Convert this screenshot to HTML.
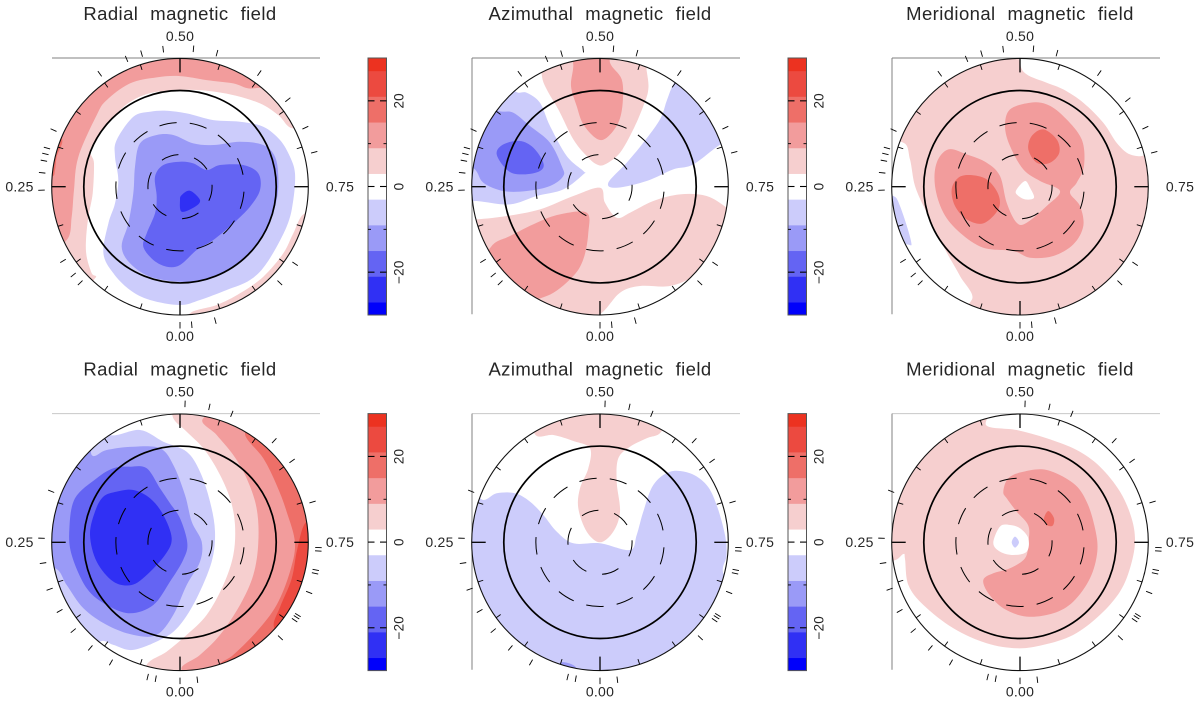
<!DOCTYPE html>
<html lang="en">
<head>
<meta charset="utf-8">
<title>Stellar magnetic field maps</title>
<style>
html,body{margin:0;padding:0;background:#fff;}
#chart{display:block;width:1200px;height:703px;font-family:"Liberation Sans",sans-serif;filter:blur(0.3px);}
</style>
</head>
<body>
<svg id="chart" xmlns="http://www.w3.org/2000/svg" width="1200" height="703" viewBox="0 0 1200 703"></svg>
<script>
// Colour scale (field strength in gauss)
const bandEdges = [-30, -27, -21, -15, -9, -3, 3, 9, 15, 21, 27, 30];
const bandColors = ['#0000fb', '#3030f4', '#6464f3', '#9a9af7', '#ccccfb', '#ffffff', '#f6cfcf', '#f29c9c', '#ee6f68', '#ec4a40', '#ec3220'];
const barTicks = [20, 10, 0, -10, -20];
const barLabels = ['20', '0', '\u221220'];
const barLabelValues = [20, 0, -20];

// Panel text and phase axis labels
const panelTitles = ['Radial magnetic field', 'Azimuthal magnetic field', 'Meridional magnetic field'];
const phaseLabels = ['0.50', '0.25', '0.75', '0.00'];
const majorPhases = [0, 0.25, 0.5, 0.75];
const minorPhases = [0.05, 0.1, 0.15, 0.2, 0.3, 0.35, 0.4, 0.45, 0.55, 0.6, 0.65, 0.7, 0.8, 0.85, 0.9, 0.95];
const latitudeCircles = [30, 60];
const equatorCircle = [90];
const rimColatitude = 120;

// Observation phases (outer ticks)
const obsPhasesTop = [0.5155, 0.4806, 0.4553, 0.437, 0.4017, 0.317, 0.295, 0.288, 0.28, 0.266, 0.246, 0.16, 0.14, 0.128, 0, 0.9865, 0.959, 0.872, 0.844, 0.71, 0.68, 0.642, 0.597, 0.543];
const obsPhasesBottom = [0.5058, 0.534, 0.561, 0.619, 0.65, 0.703, 0.756, 0.76, 0.782, 0.786, 0.809, 0.838, 0.841, 0.845, 0.871, 0.98, 0, 0.028, 0.0375, 0.083, 0.112, 0.14, 0.1675, 0.195, 0.226, 0.2547, 0.31];

// Contour regions in polar-plane units from the pole (x right, y up); the 120 degree rim sits at 385 units
const planeRim = 385;
const fullDisk = [[-520,-520],[520,-520],[520,520],[-520,520]];

const radialTopPinkUpper = [[-255,-275],[-330,-330],[-460,0],[-330,330],[0,460],[330,330],[420,210],[340,175],[295,215],[240,250],[160,275],[80,288],[0,290],[-100,278],[-180,230],[-265,120],[-258,70],[-262,-20],[-275,-90],[-282,-160],[-280,-210],[-265,-260]];
const radialTopPinkLower = [[30,-380],[110,-355],[180,-320],[250,-270],[310,-200],[340,-140],[375,-80],[450,-90],[420,-280],[200,-450],[30,-430]];
const radialTopSalmon = [[-340,-160],[-325,-90],[-318,-10],[-305,90],[-250,215],[-220,260],[-150,310],[-70,328],[0,332],[80,320],[160,310],[220,295],[320,330],[0,460],[-330,330],[-460,0],[-420,-200]];
const radialTopCoral = [[-385,30],[-375,50],[-370,90],[-355,145],[-420,170],[-440,30]];
const radialTopBlueA = [[-90,225],[-140,210],[-190,140],[-195,90],[-185,20],[-195,-50],[-215,-110],[-230,-200],[-200,-260],[-150,-310],[-90,-340],[0,-355],[60,-340],[140,-310],[210,-280],[260,-230],[320,-120],[340,-40],[345,40],[330,90],[300,140],[250,180],[180,195],[100,200],[20,220],[-40,228]];
const radialTopBlueB = [[-70,155],[-120,130],[-135,60],[-140,-20],[-155,-110],[-175,-180],[-150,-230],[-90,-270],[0,-285],[80,-280],[160,-240],[220,-185],[260,-130],[290,-40],[295,30],[285,90],[250,125],[180,135],[100,125],[40,130],[-20,155]];
const radialTopBlueC = [[0,75],[-50,65],[-75,30],[-70,-30],[-75,-80],[-100,-140],[-110,-180],[-80,-220],[-40,-240],[0,-235],[50,-190],[100,-160],[160,-110],[210,-60],[240,-10],[235,40],[190,65],[120,65],[80,50],[40,70]];
const radialTopBlueD = [[30,-12],[60,-40],[45,-60],[5,-75],[0,-40],[5,-25]];
const radialTopShapes = [radialTopPinkUpper, radialTopPinkLower, radialTopSalmon, radialTopCoral, radialTopBlueA, radialTopBlueB, radialTopBlueC, radialTopBlueD];
const radialTopBands = [6, 6, 12, 18, -6, -12, -18, -24];

const azimuthalTopPinkNorth = [[-175,337],[-160,292],[-125,232],[-80,142],[-40,92],[-10,67],[15,67],[60,102],[100,172],[130,242],[145,292],[140,347],[120,440],[-100,440],[-175,420]];
const azimuthalTopSalmonNorth = [[-80,362],[-87,302],[-70,242],[-50,187],[-10,144],[20,147],[55,192],[68,252],[65,322],[30,372],[30,430],[-80,430]];
const azimuthalTopBlueLeftA = [[-255,287],[-220,282],[-180,252],[-150,182],[-100,92],[-50,47],[-50,37],[-110,-8],[-190,-28],[-270,-53],[-370,-43],[-450,-40],[-450,150],[-300,350]];
const azimuthalTopBlueLeftB = [[-305,227],[-260,222],[-210,182],[-150,132],[-115,62],[-110,32],[-150,2],[-220,-13],[-290,-13],[-350,12],[-375,52],[-430,100],[-380,250]];
const azimuthalTopBlueLeftC = [[-240,137],[-200,117],[-170,72],[-180,47],[-230,37],[-275,47],[-310,97],[-290,127]];
const azimuthalTopBlueRight = [[220,307],[200,257],[180,202],[130,132],[80,72],[25,12],[50,-3],[140,17],[220,52],[280,67],[370,132],[440,150],[400,300],[260,370]];
const azimuthalTopPinkSouth = [[-370,-98],[-280,-88],[-180,-68],[-80,-28],[0,-3],[15,-48],[50,-93],[90,-78],[160,-43],[240,-23],[320,-28],[380,-63],[420,-100],[380,-200],[335,-208],[280,-268],[210,-298],[120,-298],[60,-318],[0,-383],[-100,-440],[-300,-350],[-440,-100]];
const azimuthalTopSalmonSouth = [[-325,-178],[-270,-148],[-190,-108],[-120,-83],[-40,-78],[-35,-138],[-50,-218],[-85,-273],[-160,-328],[-260,-340],[-360,-260]];
const azimuthalTopShapes = [azimuthalTopPinkNorth, azimuthalTopSalmonNorth, azimuthalTopBlueLeftA, azimuthalTopBlueLeftB, azimuthalTopBlueLeftC, azimuthalTopBlueRight, azimuthalTopPinkSouth, azimuthalTopSalmonSouth];
const azimuthalTopBands = [6, 12, -6, -12, -18, -6, 6, 12];

const meridionalTopNeutralRight = [[0,372],[20,337],[80,312],[130,292],[190,252],[250,192],[290,132],[330,97],[380,97],[440,150],[300,350],[0,450]];
const meridionalTopNeutralLeft = [[-350,132],[-330,82],[-315,2],[-280,-78],[-225,-188],[-180,-268],[-145,-340],[-250,-380],[-430,-150],[-430,120]];
const meridionalTopBlueSliver = [[-380,-28],[-360,-58],[-327,-163],[-340,-173],[-420,-150],[-420,-30]];
const meridionalTopSalmon = [[30,252],[-30,232],[-45,182],[-30,122],[10,52],[60,17],[120,-13],[80,-58],[20,-108],[-10,-108],[-40,-48],[-60,32],[-100,72],[-160,97],[-215,112],[-250,72],[-255,2],[-230,-78],[-180,-138],[-110,-183],[-20,-193],[30,-213],[100,-208],[160,-173],[190,-118],[180,-58],[150,-18],[170,12],[192,62],[185,142],[130,212],[80,247]];
const meridionalTopCoralUpper = [[70,172],[110,142],[118,102],[90,72],[50,72],[25,112],[35,152]];
const meridionalTopCoralLeft = [[-150,35],[-100,22],[-65,-23],[-65,-68],[-110,-110],[-160,-98],[-195,-58],[-205,-8],[-185,27]];
const meridionalTopNeutralCentre = [[15,17],[30,-3],[42,-33],[15,-38],[-10,-23],[-10,-8]];
const meridionalTopShapes = [fullDisk, meridionalTopNeutralRight, meridionalTopNeutralLeft, meridionalTopBlueSliver, meridionalTopSalmon, meridionalTopCoralUpper, meridionalTopCoralLeft, meridionalTopNeutralCentre];
const meridionalTopBands = [6, 0, 0, -6, 12, 18, 18, 0];

const radialBottomPink = [[-20,372],[20,332],[70,282],[115,212],[150,132],[165,52],[160,-38],[130,-128],[80,-218],[20,-278],[-40,-328],[-100,-368],[-100,-440],[300,-400],[450,0],[300,350],[0,440],[-20,420]];
const radialBottomSalmon = [[70,372],[110,322],[160,262],[200,192],[230,102],[235,0],[220,-98],[180,-188],[120,-278],[60,-338],[5,-383],[100,-440],[450,-100],[450,100],[200,420]];
const radialBottomCoral = [[195,327],[250,252],[290,172],[320,92],[345,-2],[330,-88],[290,-188],[230,-268],[160,-338],[120,-368],[140,-420],[450,-200],[450,100],[260,360]];
const radialBottomRed = [[378,60],[352,-20],[335,-110],[300,-195],[282,-255],[330,-300],[450,-100],[430,60]];
const radialBottomBlueA = [[-210,322],[-120,337],[-50,302],[20,272],[60,212],[90,122],[105,32],[95,-58],[50,-168],[0,-248],[-50,-288],[-140,-323],[-200,-308],[-240,-298],[-300,-350],[-470,-100],[-440,150],[-260,380]];
const radialBottomBlueB = [[-265,262],[-220,277],[-140,287],[-60,282],[-20,232],[15,142],[35,62],[65,2],[60,-58],[20,-128],[-20,-218],[-70,-278],[-140,-278],[-220,-248],[-290,-198],[-340,-128],[-375,-78],[-460,-80],[-440,200],[-280,350]];
const radialBottomBlueC = [[-150,227],[-100,222],[-60,162],[-30,117],[0,72],[22,-2],[10,-52],[-30,-118],[-80,-188],[-150,-213],[-220,-188],[-280,-138],[-325,-38],[-332,42],[-315,132],[-250,192],[-200,222]];
const radialBottomBlueD = [[-140,157],[-90,132],[-50,82],[-25,12],[-45,-38],[-100,-98],[-145,-128],[-200,-118],[-250,-58],[-270,22],[-255,92],[-230,137],[-190,152]];
const radialBottomShapes = [radialBottomPink, radialBottomSalmon, radialBottomCoral, radialBottomRed, radialBottomBlueA, radialBottomBlueB, radialBottomBlueC, radialBottomBlueD];
const radialBottomBands = [6, 12, 18, 24, -6, -12, -18, -24];

const azimuthalBottomBlue = [[-350,127],[-310,147],[-255,147],[-210,122],[-170,82],[-130,32],[-80,-3],[0,-3],[90,-23],[110,22],[130,92],[160,172],[210,212],[270,207],[320,172],[350,112],[375,22],[380,-38],[372,-100],[450,-200],[200,-450],[-300,-400],[-470,0],[-400,150]];
const azimuthalBottomSliver = [[-115,-360],[-75,-372],[-75,-400],[-120,-390]];
const azimuthalBottomPink = [[-195,324],[-140,322],[-80,304],[-30,282],[-35,222],[-60,162],[-65,102],[-40,32],[0,0],[40,32],[60,92],[50,182],[55,252],[90,287],[140,312],[185,334],[200,420],[0,450],[-200,420]];
const azimuthalBottomShapes = [azimuthalBottomBlue, azimuthalBottomSliver, azimuthalBottomPink];
const azimuthalBottomBands = [-6, -12, 6];

const meridionalBottomPink = [[-100,400],[-100,350],[-10,337],[80,312],[170,277],[240,227],[300,152],[335,72],[345,0],[330,-78],[300,-148],[240,-218],[160,-278],[70,-308],[-10,-318],[-100,-303],[-200,-258],[-290,-188],[-335,-128],[-345,-50],[-350,-35],[-380,-55],[-460,-55],[-440,200],[-280,340]];
const meridionalBottomSalmon = [[-50,152],[-35,192],[10,212],[80,217],[160,177],[200,122],[225,42],[232,-28],[210,-108],[160,-178],[100,-213],[20,-223],[-50,-198],[-95,-153],[-110,-113],[-80,-93],[-30,-78],[15,-48],[25,-2],[25,50],[-10,92],[-40,132]];
const meridionalBottomNeutral = [[-60,47],[-30,52],[0,42],[25,12],[20,-28],[-20,-38],[-60,-28],[-80,-2]];
const meridionalBottomBlueDot = [[-15,17],[-3,0],[-15,-16],[-25,0]];
const meridionalBottomCoral = [[85,94],[102,72],[98,50],[80,52],[72,72]];
const meridionalBottomShapes = [meridionalBottomPink, meridionalBottomSalmon, meridionalBottomNeutral, meridionalBottomBlueDot, meridionalBottomCoral];
const meridionalBottomBands = [6, 12, 0, -6, 18];

// Layout
const NS = 'http://www.w3.org/2000/svg';
const svg = document.getElementById('chart');
const columnCentres = [180, 600, 1020];
const rowCentres = [186.7, 542.3];
const rimRadius = 128.3;
const barColumns = [368, 788];
const barWidth = 18.5;
const barHeight = 257;
const barRange = 60;
const labelFont = '"Liberation Sans",sans-serif';

function make(tag, attrs, parent) {
  const el = document.createElementNS(NS, tag);
  for (const k in attrs) el.setAttribute(k, attrs[k]);
  parent.appendChild(el);
  return el;
}
function planeX(cx, u) { return cx + u * rimRadius / planeRim; }
function planeY(cy, v) { return cy - v * rimRadius / planeRim; }
function colatRadius(c) { return c * rimRadius / rimColatitude; }
function phaseX(cx, phase, r) { return cx - Math.sin(2 * Math.PI * phase) * r; }
function phaseY(cy, phase, r) { return cy + Math.cos(2 * Math.PI * phase) * r; }
function barY(top, value) { return top + (barRange / 2 - value) * barHeight / barRange; }
function bandColor(value) {
  for (let i = 0; i < bandColors.length; i++) {
    if (value >= bandEdges[i] && value < bandEdges[i + 1]) return bandColors[i];
  }
  return '#ffffff';
}
function smoothPath(points, cx, cy) {
  const p = points.map(function (q) { return [planeX(cx, q[0]), planeY(cy, q[1])]; });
  const n = p.length;
  let d = 'M' + p[0][0].toFixed(1) + ' ' + p[0][1].toFixed(1);
  for (let i = 0; i < n; i++) {
    const a = p[(i - 1 + n) % n], b = p[i], c = p[(i + 1) % n], e = p[(i + 2) % n];
    d += 'C' + (b[0] + (c[0] - a[0]) / 6).toFixed(1) + ' ' + (b[1] + (c[1] - a[1]) / 6).toFixed(1) + ' ' +
      (c[0] - (e[0] - b[0]) / 6).toFixed(1) + ' ' + (c[1] - (e[1] - b[1]) / 6).toFixed(1) + ' ' +
      c[0].toFixed(1) + ' ' + c[1].toFixed(1);
  }
  return d + 'Z';
}

function drawPanel(col, row, shapes, bands, obsPhases, frameColor) {
  const cx = columnCentres[col], cy = rowCentres[row];
  const g = make('g', {}, svg);
  
  

  const title = make('text', { x: cx, y: cy - 166.7, 'text-anchor': 'middle', 'font-size': 18.5, 'letter-spacing': 0.4, 'word-spacing': 6.5, fill: '#262626', 'font-family': labelFont }, g);
  
  
  title.textContent = panelTitles[col];

  // frame lines left by the original plot box
  const topLine = make('line', { x1: cx - 128, y1: cy - 128.7, x2: cx + 140, y2: cy - 128.7, stroke: frameColor, 'stroke-width': 1 }, g);
  
  
  if (col > 0) {
    const leftLine = make('line', { x1: cx - 128, y1: cy - 128.7, x2: cx - 128, y2: cy + 127.5, stroke: '#808080', 'stroke-width': 1 }, g);
    
    
  }

  const clipId = 'clip-' + col + '-' + row;
  const defs = make('defs', {}, g);
  const clip = make('clipPath', { id: clipId }, defs);
  make('circle', { cx: cx, cy: cy, r: rimRadius }, clip);

  const field = make('g', { 'clip-path': 'url(#' + clipId + ')' }, g);
  
  
  shapes.forEach(function (shape, i) {
    const path = make('path', { d: smoothPath(shape, cx, cy), fill: bandColor(bands[i]) }, field);
    
    
  });

  latitudeCircles.forEach(function (c, i) {
    const offset = i === 0 ? 3 : -5;
    const gapLen = i === 0 ? 16.2 : 13.2;
    const ring = make('circle', { cx: cx, cy: cy, r: colatRadius(c), fill: 'none', stroke: '#000', 'stroke-width': 1, 'stroke-dasharray': '17.5 ' + gapLen, 'stroke-dashoffset': offset }, g);
    
    
  });
  equatorCircle.forEach(function (c) {
    const eq = make('circle', { cx: cx, cy: cy, r: colatRadius(c), fill: 'none', stroke: '#000', 'stroke-width': 1.7 }, g);
    
    
  });
  const rim = make('circle', { cx: cx, cy: cy, r: rimRadius, fill: 'none', stroke: '#111', 'stroke-width': 1.1 }, g);
  
  

  majorPhases.forEach(function (ph) {
    const t = make('line', { x1: phaseX(cx, ph, rimRadius), y1: phaseY(cy, ph, rimRadius), x2: phaseX(cx, ph, rimRadius - 14), y2: phaseY(cy, ph, rimRadius - 14), stroke: '#000', 'stroke-width': 1.3 }, g);
    
    
  });
  minorPhases.forEach(function (ph) {
    const t = make('line', { x1: phaseX(cx, ph, rimRadius), y1: phaseY(cy, ph, rimRadius), x2: phaseX(cx, ph, rimRadius - 5.5), y2: phaseY(cy, ph, rimRadius - 5.5), stroke: '#000', 'stroke-width': 0.9 }, g);
    
    
  });
  obsPhases.forEach(function (ph) {
    const t = make('line', { x1: phaseX(cx, ph, rimRadius + 7), y1: phaseY(cy, ph, rimRadius + 7), x2: phaseX(cx, ph, rimRadius + 13.5), y2: phaseY(cy, ph, rimRadius + 13.5), stroke: '#000', 'stroke-width': 0.9 }, g);
    
    
  });

  const lbl = [[cx, cy - 145.7], [cx - 160.5, cy + 4.6], [cx + 160, cy + 4.6], [cx, cy + 154.3]];
  phaseLabels.forEach(function (txt, i) {
    const t = make('text', { x: lbl[i][0], y: lbl[i][1], 'text-anchor': 'middle', 'font-size': 14, 'letter-spacing': 0.25, fill: '#262626', 'font-family': labelFont }, g);
    
    
    t.textContent = txt;
  });
}

function drawColorbar(col, row) {
  const x = barColumns[col];
  const top = rowCentres[row] - 128.7;
  const g = make('g', {}, svg);
  
  
  bandColors.forEach(function (color, i) {
    const yTop = barY(top, bandEdges[i + 1]);
    const yBottom = barY(top, bandEdges[i]);
    const r = make('rect', { x: x, y: yTop, width: barWidth, height: yBottom - yTop + 0.3, fill: color }, g);
    
    
  });
  const frame = make('rect', { x: x, y: top, width: barWidth, height: barHeight, fill: 'none', stroke: '#555', 'stroke-width': 1 }, g);
  
  
  barTicks.forEach(function (v) {
    const major = v % 20 === 0;
    const len = major ? 6.5 : 3;
    const y = barY(top, v);
    const a = make('line', { x1: x, y1: y, x2: x + len, y2: y, stroke: '#000', 'stroke-width': major ? 1.1 : 0.9 }, g);
    
    
    const b = make('line', { x1: x + barWidth - len, y1: y, x2: x + barWidth, y2: y, stroke: '#000', 'stroke-width': major ? 1.1 : 0.9 }, g);
    
    
  });
  barLabels.forEach(function (txt, i) {
    const y = barY(top, barLabelValues[i]);
    const lx = x + 35.5;
    const t = make('text', { x: lx, y: y, transform: 'rotate(-90 ' + lx + ' ' + y + ')', 'text-anchor': 'middle', 'font-size': 13.5, 'letter-spacing': 0.2, fill: '#262626', 'font-family': labelFont }, g);
    
    
    t.textContent = txt;
  });
}

drawPanel(0, 0, radialTopShapes, radialTopBands, obsPhasesTop, '#808080');
drawPanel(1, 0, azimuthalTopShapes, azimuthalTopBands, obsPhasesTop, '#808080');
drawPanel(2, 0, meridionalTopShapes, meridionalTopBands, obsPhasesTop, '#808080');
drawPanel(0, 1, radialBottomShapes, radialBottomBands, obsPhasesBottom, '#c8c8c8');
drawPanel(1, 1, azimuthalBottomShapes, azimuthalBottomBands, obsPhasesBottom, '#c8c8c8');
drawPanel(2, 1, meridionalBottomShapes, meridionalBottomBands, obsPhasesBottom, '#c8c8c8');
drawColorbar(0, 0);
drawColorbar(1, 0);
drawColorbar(0, 1);
drawColorbar(1, 1);
</script>
</body>
</html>
